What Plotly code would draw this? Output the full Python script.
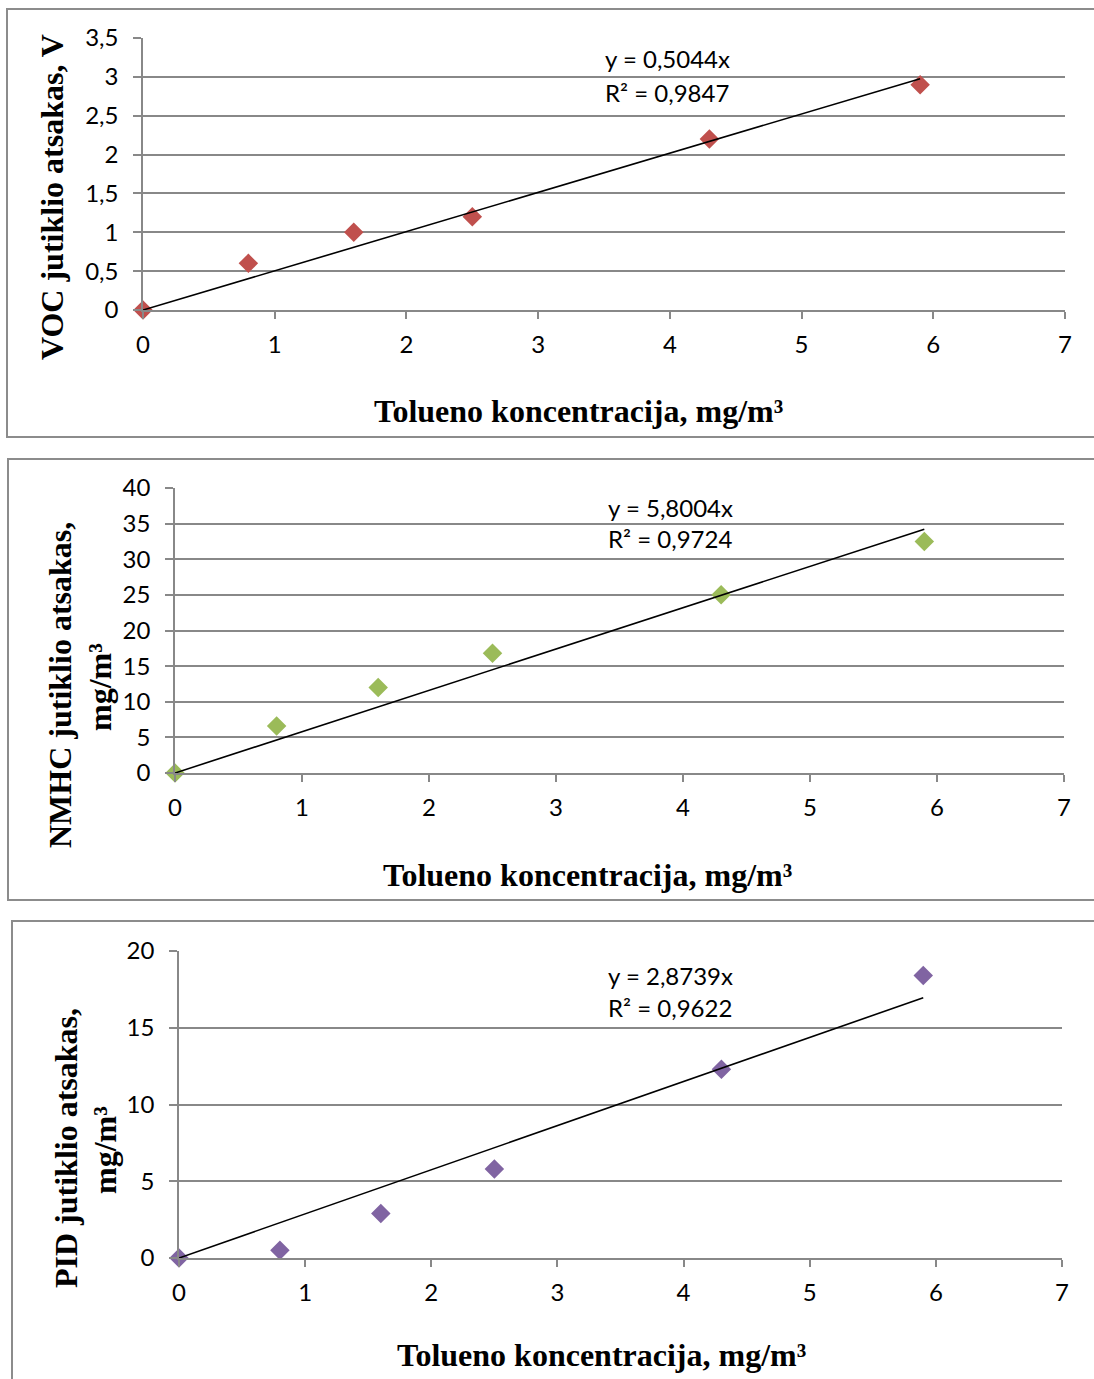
import plotly.graph_objects as go

W, H = 1094, 1379

conc = [0, 0.8, 1.6, 2.5, 4.3, 5.9]
voc = [0, 0.6, 1.0, 1.2, 2.2, 2.9]
nmhc = [0, 6.6, 12.0, 16.8, 25.0, 32.5]
pid = [0, 0.5, 2.9, 5.8, 12.3, 18.4]

slopes = [0.5044, 5.8004, 2.8739]
r2 = ["0,9847", "0,9724", "0,9622"]
eq_text = ["y = 0,5044x", "y = 5,8004x", "y = 2,8739x"]
y_ranges = [[0, 3.5], [0, 40], [0, 20]]
y_dticks = [0.5, 5, 5]
x_title = "Tolueno koncentracija, mg/m³"
y_titles = [["VOC jutiklio atsakas, V"],
            ["NMHC jutiklio atsakas,", "mg/m³"],
            ["PID jutiklio atsakas,", "mg/m³"]]
colors = ["#C0504D", "#9BBB59", "#8064A2"]
series = [voc, nmhc, pid]

# layout in pixels (left, right, top(ymax), bottom(y0))
plot_px = [(143, 1065, 38, 310), (175, 1064, 488, 773), (179, 1062, 951, 1258)]
border_px = [(7, 1100, 9, 437), (8, 1100, 459, 900), (12, 1100, 921, 1390)]
eq_px = [(603, 59, 92), (606, 507, 539), (606, 975, 1007)]
xt_px = [(578, 411), (587, 875), (601, 1355)]
yt_px = [[(52, 197)], [(60, 685), (100, 687)], [(66, 1148), (105, 1150)]]

def px(x):
    return x / W

def py(y):
    return 1 - y / H

fig = go.Figure()
GRID = "#888888"
TICKFONT = dict(family="Lato, Open Sans, sans-serif", size=24, color="black")
TITLEFONT = dict(family="Liberation Serif, Times New Roman, serif", size=32, color="black")

annotations = []
shapes = []
for i in range(3):
    xa = "x" if i == 0 else f"x{i+1}"
    ya = "y" if i == 0 else f"y{i+1}"
    l, r, t, b = plot_px[i]
    fig.update_layout(**{
        ("xaxis" if i == 0 else f"xaxis{i+1}"): dict(
            domain=[px(l), px(r)], anchor=ya, range=[0, 7], dtick=1, tick0=0,
            showgrid=False, zeroline=False, showline=True, linecolor=GRID, linewidth=1.5,
            ticks="outside", ticklen=7, tickcolor=GRID, tickwidth=1.5,
            tickfont=TICKFONT, ticklabelstandoff=5, automargin=False, fixedrange=True,
        ),
        ("yaxis" if i == 0 else f"yaxis{i+1}"): dict(
            domain=[py(b), py(t)], anchor=xa, range=y_ranges[i], dtick=y_dticks[i], tick0=0,
            showgrid=True, gridcolor=GRID, gridwidth=1.5, zeroline=False,
            showline=True, linecolor=GRID, linewidth=1.5,
            ticks="outside", ticklen=8, tickcolor=GRID, tickwidth=1.5,
            tickfont=TICKFONT, ticklabelstandoff=10, automargin=False, fixedrange=True,
        ),
    })
    ys = series[i]
    fig.add_trace(go.Scatter(
        x=conc, y=ys, mode="markers", xaxis=xa, yaxis=ya,
        marker=dict(symbol="diamond", size=15, color=colors[i]),
        cliponaxis=False, showlegend=False,
    ))
    tx = [0, max(conc)]
    fig.add_trace(go.Scatter(
        x=tx, y=[slopes[i] * v for v in tx], mode="lines", xaxis=xa, yaxis=ya,
        line=dict(color="black", width=1.6), cliponaxis=False, showlegend=False,
    ))
    ex, ey1, ey2 = eq_px[i]
    annotations.append(dict(x=px(ex), y=py(ey1), xref="paper", yref="paper",
                            text=eq_text[i], showarrow=False, xanchor="left", yanchor="middle",
                            font=TICKFONT))
    annotations.append(dict(x=px(ex), y=py(ey2), xref="paper", yref="paper",
                            text=f"R² = {r2[i]}", showarrow=False, xanchor="left", yanchor="middle",
                            font=TICKFONT))
    xx, xy = xt_px[i]
    annotations.append(dict(x=px(xx), y=py(xy), xref="paper", yref="paper",
                            text=f"<b>{x_title}</b>", showarrow=False, xanchor="center",
                            yanchor="middle", font=TITLEFONT))
    for (tx_, ty_), line in zip(yt_px[i], y_titles[i]):
        annotations.append(dict(x=px(tx_), y=py(ty_), xref="paper", yref="paper",
                                text=f"<b>{line}</b>", showarrow=False, textangle=-90,
                                xanchor="center", yanchor="middle", font=TITLEFONT))
    bl, br, bt, bb = border_px[i]
    shapes.append(dict(type="rect", xref="paper", yref="paper",
                       x0=px(bl), x1=px(br), y0=py(bb), y1=py(bt),
                       line=dict(color="#8c8c8c", width=2), fillcolor="rgba(0,0,0,0)"))

fig.update_layout(
    width=W, height=H, autosize=False, margin=dict(l=0, r=0, t=0, b=0, pad=0, autoexpand=False),
    paper_bgcolor="white", plot_bgcolor="white",
    annotations=annotations, shapes=shapes,
    separators=", ",
)
fig.write_html(
    "out.html",
    config={"displayModeBar": False, "responsive": False},
    post_script="document.body.style.margin='0';document.body.style.overflow='hidden';",
)
